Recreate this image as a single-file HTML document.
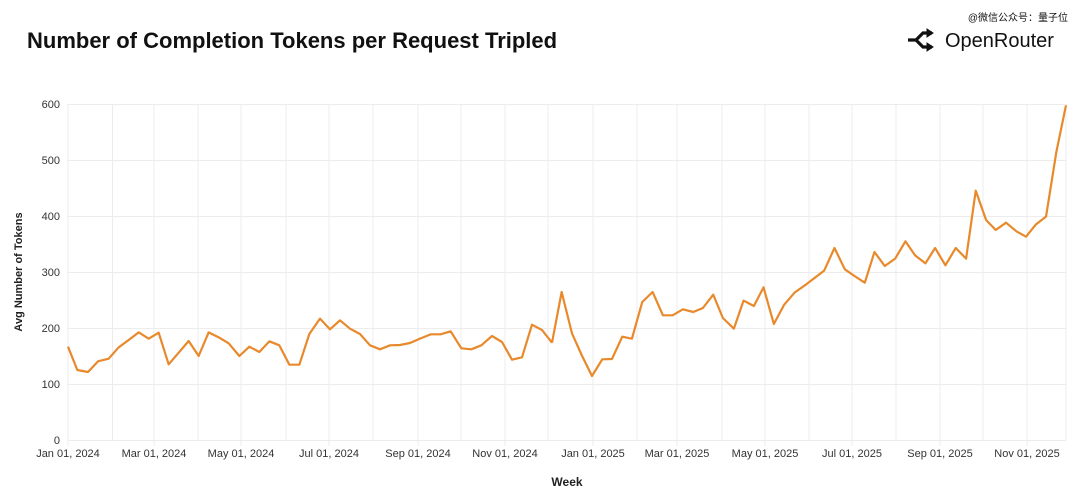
<!DOCTYPE html>
<html><head><meta charset="utf-8"><style>
body{margin:0;background:#fff;width:1080px;height:491px;overflow:hidden;font-family:"Liberation Sans","Noto Sans CJK SC",sans-serif;}
</style></head><body>
<svg width="1080" height="491" xmlns="http://www.w3.org/2000/svg" style="position:absolute;left:0;top:0">
<text x="27" y="48" font-size="22" font-weight="bold" fill="#111" font-family="Liberation Sans, sans-serif">Number of Completion Tokens per Request Tripled</text>
<text x="1068" y="21" font-size="10" fill="#111" text-anchor="end" font-family="Liberation Sans, Noto Sans CJK SC, sans-serif">@微信公众号：量子位</text>
<g transform="translate(908,31)" fill="none" stroke="#111" stroke-width="3.2">
<path d="M0,9 L8,9 L15,2 L24,2 M8,9 L15,16 L24,16"/>
<path d="M19,-2 L25,2 L19,6 Z M19,12 L25,16 L19,20 Z" fill="#111" stroke-width="1"/>
</g>
<text x="945" y="47" font-size="20" fill="#111">OpenRouter</text>
<g stroke="#ececec" stroke-width="1">
<line x1="68" y1="104.5" x2="1066" y2="104.5"/><line x1="68" y1="160.5" x2="1066" y2="160.5"/><line x1="68" y1="216.5" x2="1066" y2="216.5"/><line x1="68" y1="272.5" x2="1066" y2="272.5"/><line x1="68" y1="328.5" x2="1066" y2="328.5"/><line x1="68" y1="384.5" x2="1066" y2="384.5"/><line x1="68" y1="440.5" x2="1066" y2="440.5"/>
<line x1="68" y1="104" x2="68" y2="446"/><line x1="112.5" y1="104" x2="112.5" y2="440"/><line x1="154" y1="104" x2="154" y2="446"/><line x1="198" y1="104" x2="198" y2="440"/><line x1="241" y1="104" x2="241" y2="446"/><line x1="286" y1="104" x2="286" y2="440"/><line x1="329" y1="104" x2="329" y2="446"/><line x1="373" y1="104" x2="373" y2="440"/><line x1="418" y1="104" x2="418" y2="446"/><line x1="461" y1="104" x2="461" y2="440"/><line x1="505" y1="104" x2="505" y2="446"/><line x1="548" y1="104" x2="548" y2="440"/><line x1="593" y1="104" x2="593" y2="446"/><line x1="637" y1="104" x2="637" y2="440"/><line x1="677" y1="104" x2="677" y2="446"/><line x1="722" y1="104" x2="722" y2="440"/><line x1="765" y1="104" x2="765" y2="446"/><line x1="809" y1="104" x2="809" y2="440"/><line x1="852" y1="104" x2="852" y2="446"/><line x1="896" y1="104" x2="896" y2="440"/><line x1="940" y1="104" x2="940" y2="446"/><line x1="983" y1="104" x2="983" y2="440"/><line x1="1027" y1="104" x2="1027" y2="446"/><line x1="1066" y1="104" x2="1066" y2="440"/>
</g>
<g font-size="11" fill="#333" text-anchor="end">
<text x="60" y="108">600</text><text x="60" y="164">500</text><text x="60" y="220">400</text><text x="60" y="276">300</text><text x="60" y="332">200</text><text x="60" y="388">100</text><text x="60" y="444">0</text>
</g>
<g font-size="11" fill="#333" text-anchor="middle">
<text x="68" y="457">Jan 01, 2024</text><text x="154" y="457">Mar 01, 2024</text><text x="241" y="457">May 01, 2024</text><text x="329" y="457">Jul 01, 2024</text><text x="418" y="457">Sep 01, 2024</text><text x="505" y="457">Nov 01, 2024</text><text x="593" y="457">Jan 01, 2025</text><text x="677" y="457">Mar 01, 2025</text><text x="765" y="457">May 01, 2025</text><text x="852" y="457">Jul 01, 2025</text><text x="940" y="457">Sep 01, 2025</text><text x="1027" y="457">Nov 01, 2025</text>
</g>
<text x="567" y="486" font-size="12" font-weight="bold" fill="#222" text-anchor="middle">Week</text>
<text transform="translate(22,272) rotate(-90)" font-size="11" font-weight="bold" fill="#222" text-anchor="middle">Avg Number of Tokens</text>
<g fill="none" stroke="#e8892b" stroke-width="2.2" stroke-linejoin="round">
<polyline vector-effect="non-scaling-stroke" transform="translate(60,270) scale(0.33333,0.33333)" points="24,230 52,300 84,306 114,274 146,266 176,232 206,210 236,187 266,206 296,188 326,283 356,248 386,213 416,258 446,187 476,202 506,220 538,258 568,230 598,246 628,214 658,226 688,284 718,284 748,192 780,146 810,178 840,151 870,176 900,192 930,226 960,238 990,226 1020,225 1050,219 1080,206 1112,193 1142,193 1172,184 1204,235 1234,238 1264,226 1296,198 1326,216 1356,269 1386,262 1416,164 1446,180 1476,218"/>
<polyline vector-effect="non-scaling-stroke" transform="translate(539.6,100) scale(0.3445,0.33333)" points="36,728 64,576 94,700 122,765 152,828 182,778 210,777 240,710 268,716 298,606 328,576 358,646 386,646 416,628 446,636 474,624 504,584 532,654 564,686 592,602 622,618 650,562 680,672 710,614 740,578 770,556 798,534 826,512 856,444 886,508 914,528 944,548 972,456 1002,498 1032,476 1062,424 1090,466 1120,490 1148,444 1178,496 1208,444 1238,476 1266,272 1296,360 1324,390 1354,368 1384,394 1412,410 1440,374 1470,350 1500,156 1528,16"/>
</g>
</svg>
</body></html>
